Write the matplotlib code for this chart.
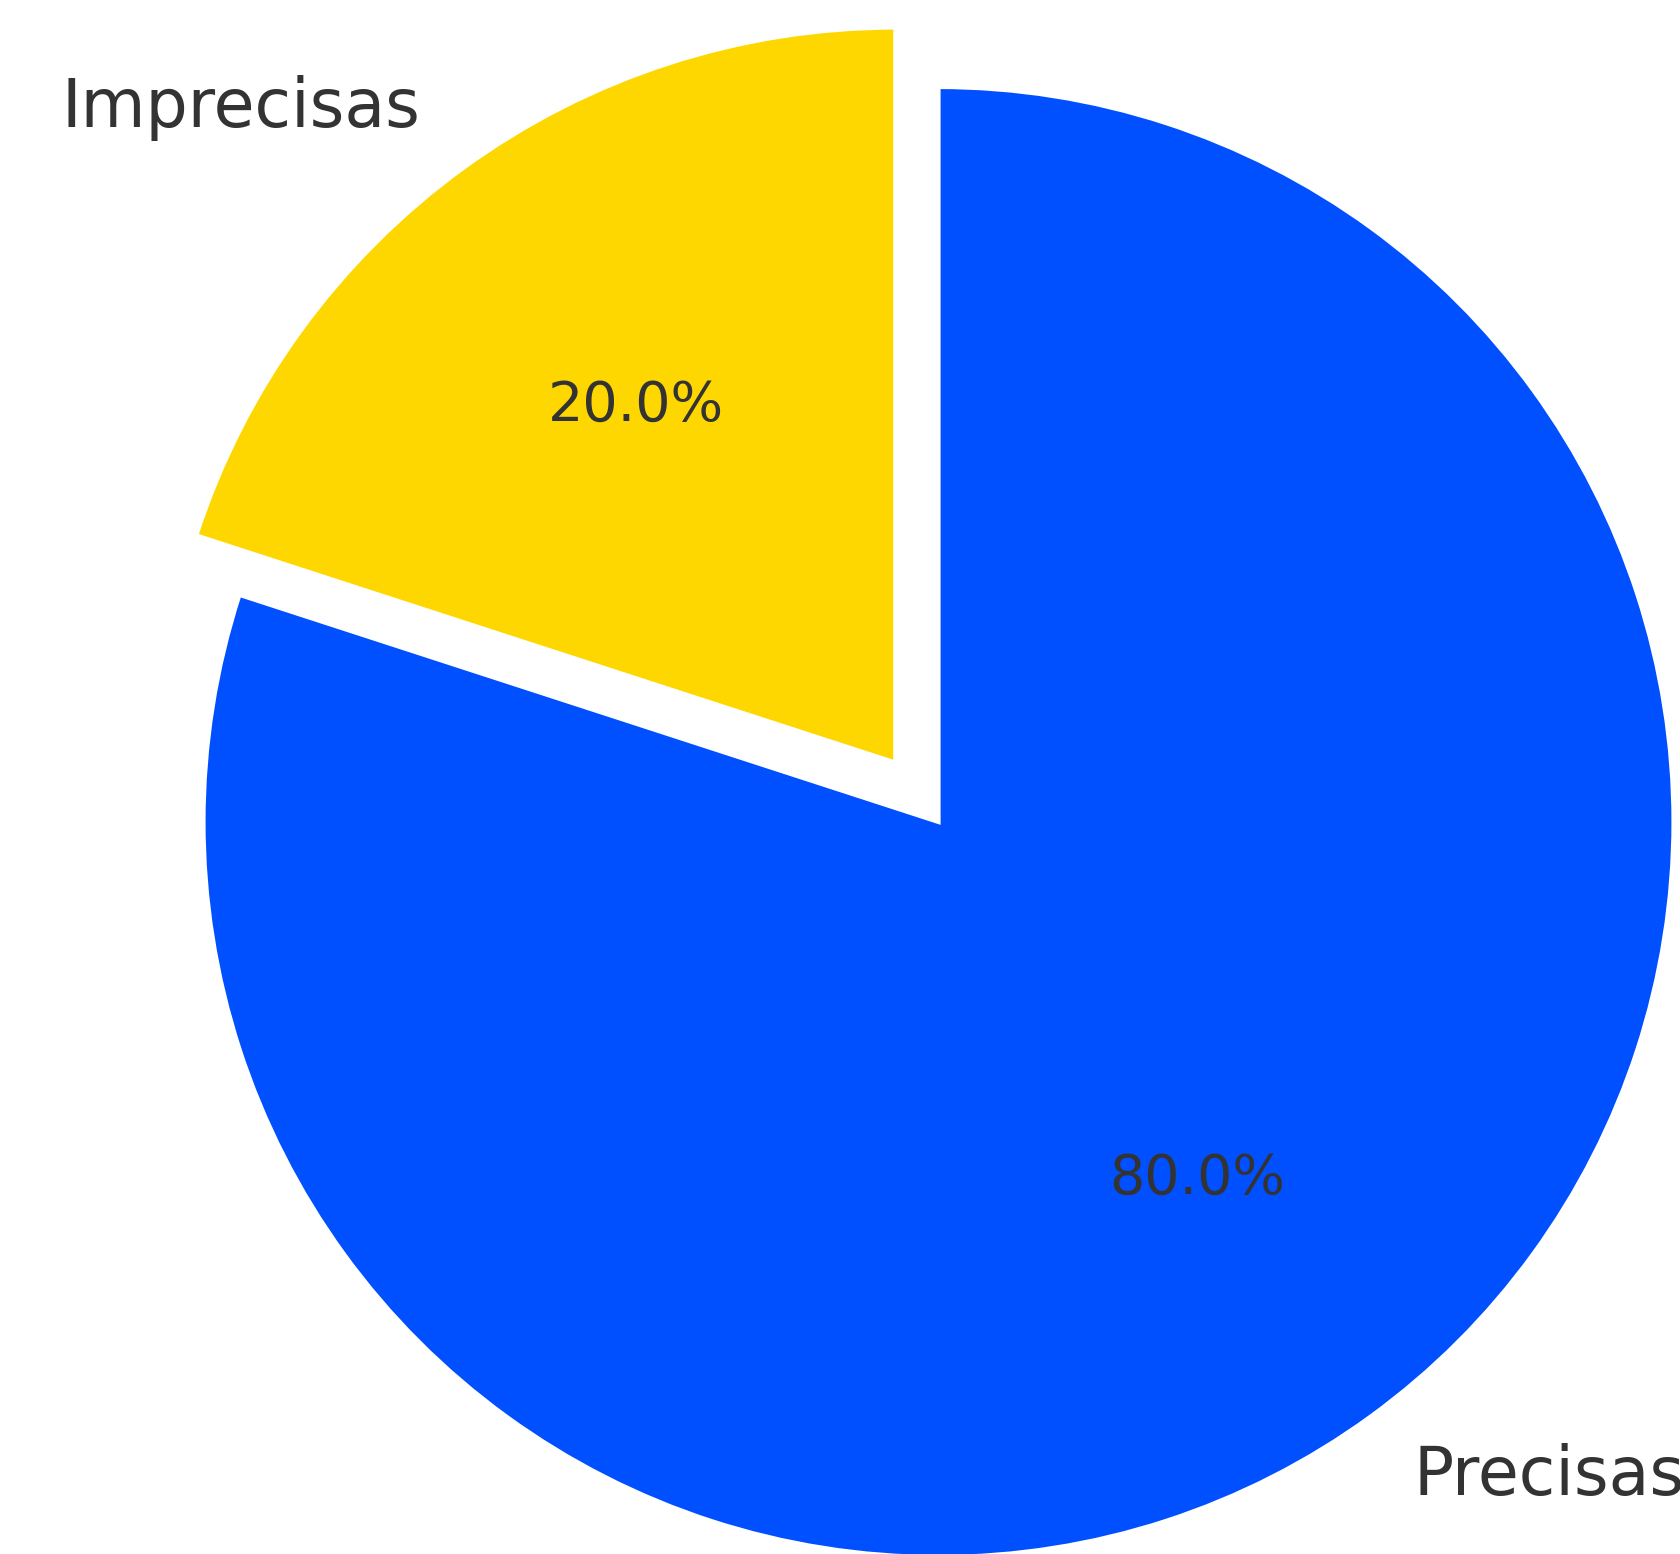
import matplotlib
matplotlib.use("Agg")
import matplotlib.pyplot as plt

labels = ["Imprecisas", "Precisas"]
values = [20, 80]
colors = ["#FFD700", "#0050FF"]
explode = [0.1, 0]

W, H, DPI = 1680, 1554, 100
R = 735          # pie radius in pixels
cx, cy = 938.5, 822  # pie center, pixels from top-left

fig = plt.figure(figsize=(W / DPI, H / DPI), dpi=DPI)
ax = fig.add_axes([0, 0, 1, 1])

wedges, texts, autotexts = ax.pie(
    values, labels=labels, colors=colors, explode=explode,
    startangle=90, autopct="%1.1f%%",
    labeldistance=1.1, pctdistance=0.6,
    wedgeprops=dict(edgecolor="white", linewidth=3),
    textprops=dict(color="#333333"),
)
for t in texts:
    t.set_fontsize(48)
for t in autotexts:
    t.set_fontsize(40)

ax.set_xlim(-cx / R, (W - cx) / R)
ax.set_ylim(-(H - cy) / R, cy / R)
ax.set_aspect("equal")
ax.axis("off")

fig.savefig("out.png", dpi=DPI, facecolor="white")
